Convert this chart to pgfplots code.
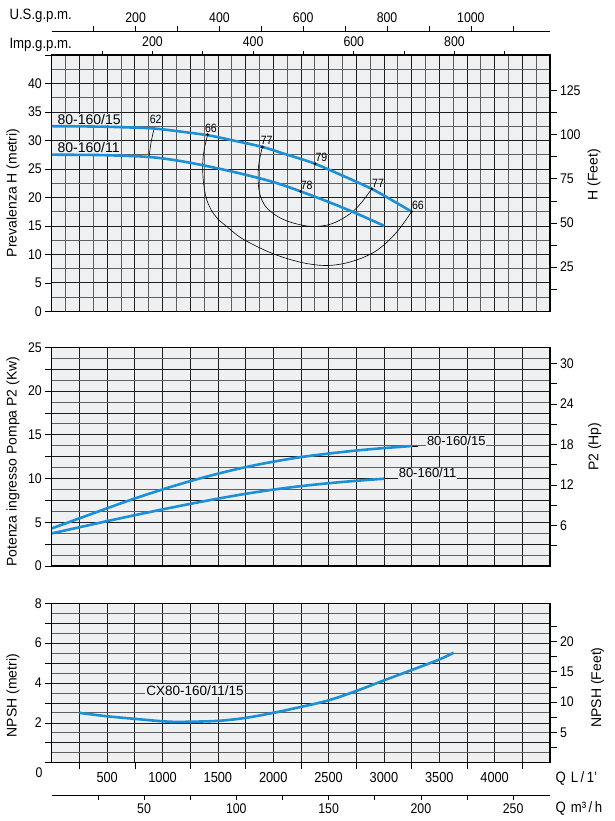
\documentclass[border=0pt]{standalone}
\usepackage{fontspec}
\setmainfont{Liberation Sans}
\newfontfamily\cond[FakeStretch=0.88]{Liberation Sans}
\usepackage{pgfplots}
\pgfplotsset{compat=1.18}
\definecolor{bgc}{RGB}{239,240,242}
\definecolor{gridc}{RGB}{30,30,30}
\definecolor{gridm}{RGB}{95,95,95}
\definecolor{cblue}{RGB}{28,144,214}
\newcommand\tickfont{\cond\fontsize{14}{15}\selectfont}
\newcommand\bigtickfont{\cond\fontsize{14.5}{15}\selectfont}
\newcommand\efffont{\cond\fontsize{12}{13}\selectfont}
\newcommand\labfont{\fontsize{14}{16}\selectfont}
\pgfplotsset{
  base/.style={scale only axis, width=498.2pt, xmin=0, xmax=4500,
    /pgf/number format/assume math mode=true,
    tick label style={font=\tickfont},
    major tick length=6.5pt, minor tick length=0pt,
    tick align=outside, tick style={black,line width=0.6pt}},
  panel/.style={base,
    axis background/.style={fill=bgc},
    grid=both,
    major grid style={draw=gridc,line width=0.7pt},
    minor grid style={draw=gridm,line width=0.8pt},
    xtick style={draw=none},
    ytick pos=left,
    xticklabels={},
    axis line style={black,line width=1.3pt},
    every axis y label/.style={at={(axis description cs:-0.078,#1)},rotate=90,anchor=center,font=\labfont}},
  rpanel/.style 2 args={base, axis x line=none, axis y line*=right,
    axis line style={black,line width=1.3pt},
    every axis y label/.style={at={(axis description cs:#1,#2)},rotate=90,anchor=center,font=\labfont}},
  scaleax/.style={base, height=1pt, ymin=0, ymax=1, axis y line=none,
    major tick length=4.5pt,
    axis line style={black,line width=0.8pt}},
  bluecurve/.style={cblue, line width=2.6pt, smooth, tension=0.55},
  effarc/.style={black, line width=0.6pt, smooth, tension=0.6},
}
\begin{document}
\begin{tikzpicture}
\useasboundingbox (0pt,0pt) rectangle (615pt,-821pt);

% ---------- top scales ----------
\begin{axis}[scaleax, at={(51.8pt,-31pt)}, anchor=north west, axis x line*=top,
  xmax=1188.77, xtick={100,200,...,1100}, xticklabels={,200,,400,,600,,800,,1000,}]
\end{axis}
\begin{axis}[scaleax, at={(51.8pt,-55pt)}, anchor=north west, axis x line*=top,
  axis line style={draw=none},
  xmax=989.86, xtick={100,200,...,900}, xticklabels={,200,,400,,600,,800,}]
\end{axis}
\node[anchor=west, font=\cond\fontsize{15}{16}\selectfont] at (6pt,-16pt) {U.S.g.p.m.};
\node[anchor=west, font=\cond\fontsize{15}{16}\selectfont] at (6pt,-45pt) {Imp.g.p.m.};

% ---------- head panel ----------
\begin{axis}[panel=0.4616, at={(51.8pt,-311.3pt)}, anchor=south west, height=256.3pt,
  ymin=0, ymax=45, xtick={0,250,...,4500}, minor x tick num=1,
  ytick={0,5,...,45}, minor y tick num=1, yticklabels={0,5,10,15,20,25,30,35,40,},
  ylabel={Prevalenza H (metri)}]
\node[anchor=base west, fill=bgc, inner sep=0.6pt, font=\labfont] at (axis cs:45,32.8) {80-160/15};
\node[anchor=base west, fill=bgc, inner sep=0.6pt, font=\labfont] at (axis cs:45,27.8) {80-160/11};
% efficiency curves
\addplot[effarc] coordinates {(926,32.2) (896,29.6) (878,26.9)};
\addplot[effarc] coordinates {(1408,31.0) (1385,29.2) (1368,27.3) (1363,25.5) (1366,23.5) (1378,21.5) (1399,19.6) (1440,17.8) (1500,16.2) (1580,14.9) (1700,13.0) (1851,11.4) (2000,10.1) (2152,9.1) (2300,8.4) (2453,8.05) (2600,8.25) (2750,9.0) (2904,10.3) (3020,12.0) (3115,13.9) (3190,15.8) (3250,17.5)};
\addplot[effarc] coordinates {(1902,28.86) (1880,27.0) (1866,25.2) (1863,23.4) (1870,21.5) (1896,19.6) (1950,18.0) (2062,16.4) (2200,15.4) (2350,14.9) (2500,15.2) (2620,16.2) (2724,17.6) (2810,19.4) (2889,21.5)};
% pump curves
\addplot[bluecurve] coordinates {(0,32.5) (250,32.47) (500,32.4) (750,32.25) (923,32.1) (1125,31.65) (1412,30.9) (1625,30.05) (1902,28.86) (2100,27.65) (2250,26.75) (2378,25.9) (2600,24.05) (2889,21.5) (3100,19.2) (3250,17.5)};
\addplot[bluecurve] coordinates {(0,27.5) (250,27.47) (500,27.4) (875,27.1) (1125,26.5) (1376,25.6) (1625,24.55) (1878,23.35) (2050,22.4) (2248,21.05) (2500,19.2) (2750,17.2) (3003,15.0)};
\addplot[only marks, mark=*, mark size=1.2pt, black] coordinates {(1408,31.0) (1902,28.86) (2378,25.9) (2248,21.05) (2889,21.5) (3250,17.5)};
\node[font=\efffont, inner sep=0pt] at (axis cs:938,33.7) {62};
\node[font=\efffont, inner sep=0pt] at (axis cs:1437,32.05) {66};
\node[font=\efffont, inner sep=0pt] at (axis cs:1941,30.0) {77};
\node[font=\efffont, inner sep=0pt] at (axis cs:2435,27.06) {79};
\node[font=\efffont, inner sep=0pt] at (axis cs:2302,22.1) {78};
\node[font=\efffont, inner sep=0pt] at (axis cs:2947,22.5) {77};
\node[font=\efffont, inner sep=0pt] at (axis cs:3307,18.56) {66};
\end{axis}
\begin{axis}[rpanel={1.0883}{0.532}, at={(51.8pt,-311.3pt)}, anchor=south west, height=256.3pt,
  ymin=0, ymax=145, ytick={12.5,25,...,125}, yticklabels={,25,,50,,75,,100,,125},
  ylabel={H (Feet)}]
\end{axis}

% ---------- power panel ----------
\begin{axis}[panel=0.477, at={(51.8pt,-566pt)}, anchor=south west, height=218.7pt,
  ymin=0, ymax=25, xtick={0,250,...,4500},
  ytick={0,2.5,...,25}, minor y tick num=1, yticklabels={0,,5,,10,,15,,20,,25},
  ylabel={Potenza ingresso Pompa P2 (Kw)}]
\node[anchor=west, fill=bgc, inner sep=0.8pt, font=\fontsize{13}{14}\selectfont] at (axis cs:3380,14.3) {80-160/15};
\node[anchor=west, fill=bgc, inner sep=0.8pt, font=\fontsize{13}{14}\selectfont] at (axis cs:3125,10.6) {80-160/11};
\addplot[black, line width=0.7pt] coordinates {(3257,13.72) (3305,13.72)};
\addplot[black, line width=0.7pt] coordinates {(3005,9.98) (3053,9.98)};
\addplot[bluecurve] coordinates {(0,4.3) (250,5.45) (500,6.6) (750,7.72) (1000,8.75) (1250,9.7) (1500,10.55) (1750,11.3) (2000,11.92) (2250,12.45) (2500,12.85) (2750,13.2) (3000,13.48) (3257,13.72)};
\addplot[bluecurve] coordinates {(0,3.73) (250,4.43) (500,5.13) (750,5.81) (1000,6.47) (1250,7.1) (1500,7.7) (1750,8.25) (2000,8.73) (2250,9.13) (2500,9.46) (2750,9.74) (3005,9.98)};
\end{axis}
\begin{axis}[rpanel={1.090}{0.545}, at={(51.8pt,-566pt)}, anchor=south west, height=218.7pt,
  ymin=0, ymax=32.4, ytick={3,6,...,30}, yticklabels={,6,,12,,18,,24,,30},
  ylabel={P2 (Hp)}]
\end{axis}

% ---------- NPSH panel ----------
\begin{axis}[panel=0.42, at={(51.8pt,-762.7pt)}, anchor=south west, height=159.4pt,
  ymin=0, ymax=8, xtick={0,250,...,4500},
  xticklabels={,,500,,1000,,1500,,2000,,2500,,3000,,3500,,4000,,},
  xticklabel style={font=\bigtickfont},
  ytick={0,1,...,8}, minor y tick num=1, yticklabels={,,2,,4,,6,,8},
  ylabel={NPSH (metri)}]
\node[fill=bgc, inner sep=1.5pt, font=\fontsize{13.5}{14}\selectfont] at (axis cs:1294,3.62) {CX80-160/11/15};
\addplot[bluecurve] coordinates {(250,2.5) (500,2.33) (750,2.2) (1000,2.08) (1161,2.05) (1500,2.1) (1750,2.25) (2000,2.5) (2250,2.8) (2500,3.13) (2750,3.6) (3000,4.13) (3250,4.65) (3500,5.18) (3630,5.52)};
\end{axis}
\begin{axis}[rpanel={1.0953}{0.472}, at={(51.8pt,-762.7pt)}, anchor=south west, height=159.4pt,
  ymin=0, ymax=26.25, ytick={2.5,5,...,22.5}, yticklabels={,5,,10,,15,,20,},
  ylabel={NPSH (Feet)}]
\end{axis}
% odd ticks under NPSH panel
\begin{axis}[scaleax, at={(51.8pt,-762.7pt)}, anchor=south west, axis x line*=bottom,
  axis line style={draw=none}, major tick length=6.5pt,
  xtick={250,750,...,4250}, xticklabels={}]
\end{axis}
% m3/h scale
\begin{axis}[scaleax, at={(51.8pt,-795.3pt)}, anchor=south west, axis x line*=bottom,
  xmax=270, xtick={25,50,...,250}, xticklabels={,50,,100,,150,,200,,250}]
\end{axis}
\node[font=\tickfont] at (39pt,-773pt) {0};
\node[anchor=west, font=\cond\fontsize{15}{16}\selectfont] at (552pt,-778pt) {Q\,\,L\,/\,1’};
\node[anchor=west, font=\cond\fontsize{15}{16}\selectfont] at (552pt,-808pt) {Q\,\,m³\,/\,h};
\end{tikzpicture}
\end{document}
